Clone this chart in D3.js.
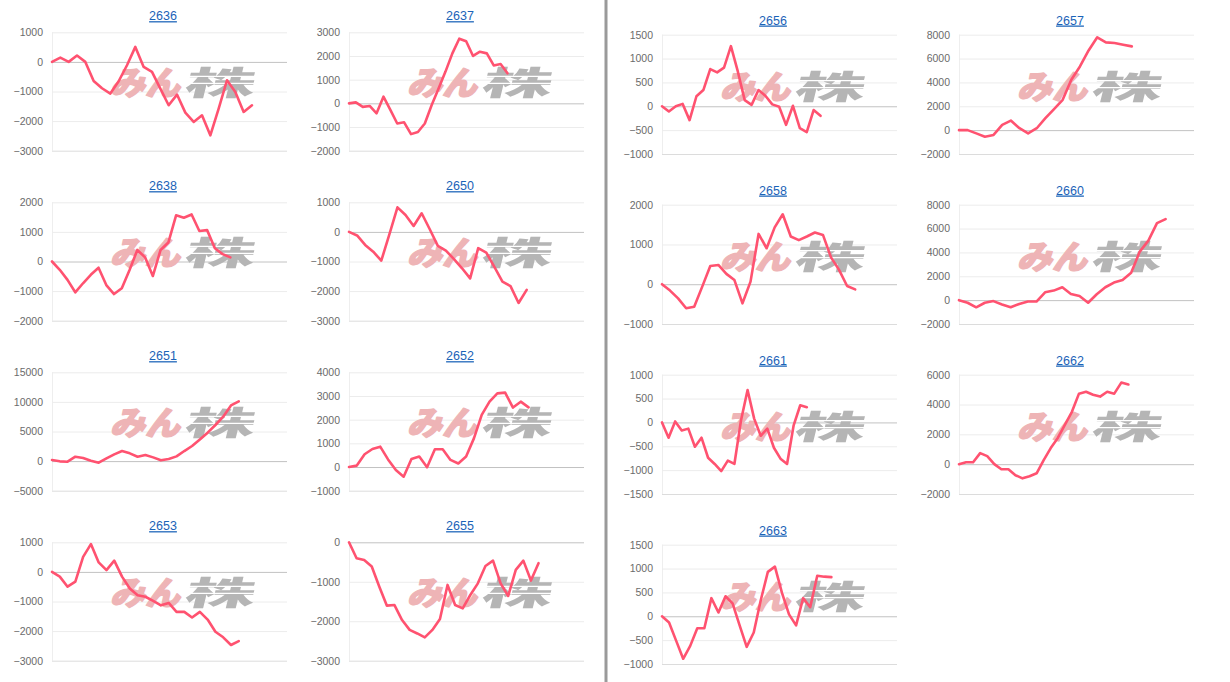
<!DOCTYPE html>
<html><head><meta charset="utf-8">
<script src="https://cdn.jsdelivr.net/npm/d3@7"></script>
<style>
html,body{margin:0;padding:0;background:#fff;}
svg{display:block;}
</style></head>
<body>
<script>
// ---- data ----
const codes = ["2636","2637","2638","2650","2651","2652","2653","2655","2656","2657","2658","2660","2661","2662","2663"];

const v2636 = [0,146,0,214,0,-642,-890,-1070,-654,-113,507,-169,-338,-901,-1465,-1104,-1713,-2028,-1803,-2479,-1577,-620,-1014,-1690,-1465];
const v2637 = [0,40,-150,-110,-420,280,-280,-850,-800,-1300,-1210,-850,-70,630,1340,2110,2730,2620,2000,2180,2110,1600,1660,1270];
const v2638 = [0,-280,-620,-1040,-735,-450,-210,-795,-1100,-905,-290,390,140,-490,390,640,1560,1480,1590,1030,1060,445,250,140];
const v2650 = [0,-120,-440,-670,-970,-80,830,570,200,630,90,-470,-630,-920,-1230,-1570,-550,-700,-1180,-1680,-1830,-2400,-1960];
const v2651 = [180,-40,-100,740,520,70,-270,460,1140,1700,1310,740,1030,630,130,350,800,1700,2550,3650,4800,6100,7500,9400,10100];
const v2652 = [0,60,540,760,860,320,-130,-410,340,440,-10,750,750,300,150,440,1210,2200,2760,3110,3140,2510,2760,2520];
const v2653 = [0,-160,-500,-330,510,940,320,60,380,-160,-560,-790,-840,-980,-1130,-1050,-1350,-1350,-1540,-1350,-1610,-2020,-2210,-2470,-2340];
const v2655 = [0,-405,-450,-615,-1125,-1605,-1590,-1970,-2220,-2310,-2410,-2220,-1945,-1080,-1590,-1675,-1335,-1040,-600,-465,-1040,-1360,-700,-465,-970,-530];
const v2656 = [0,-110,0,50,-290,210,340,780,710,810,1260,730,130,30,340,220,40,-10,-390,10,-460,-540,-80,-200];
const v2657 = [0,0,-270,-550,-400,440,800,160,-270,160,1000,1760,2540,4220,5340,6680,7780,7360,7300,7160,7020];
const v2658 = [0,-160,-355,-605,-565,-60,460,485,260,105,-480,65,1265,905,1430,1760,1200,1110,1200,1300,1240,675,360,-45,-130];
const v2660 = [0,-220,-600,-220,-80,-360,-600,-320,-120,-120,660,800,1080,520,350,-220,490,1080,1470,1690,2300,4070,4990,6450,6790];
const v2661 = [0,-320,20,-170,-130,-510,-320,-740,-870,-1020,-800,-870,40,680,80,-280,-130,-530,-760,-870,-60,360,320];
const v2662 = [0,130,130,740,540,0,-340,-340,-740,-950,-810,-610,270,1080,1760,2640,3510,4730,4860,4660,4530,4860,4730,5470,5340];
const v2663 = [0,-130,-510,-890,-620,-250,-250,380,80,420,270,-190,-640,-340,340,930,1040,490,40,-190,380,190,850,830,820];

const t2636 = [-3000,-2000,-1000,0,1000];
const t2637 = [-2000,-1000,0,1000,2000,3000];
const t2638 = [-2000,-1000,0,1000,2000];
const t2650 = [-3000,-2000,-1000,0,1000];
const t2651 = [-5000,0,5000,10000,15000];
const t2652 = [-1000,0,1000,2000,3000,4000];
const t2653 = [-3000,-2000,-1000,0,1000];
const t2655 = [-3000,-2000,-1000,0];
const t2656 = [-1000,-500,0,500,1000,1500];
const t2657 = [-2000,0,2000,4000,6000,8000];
const t2658 = [-1000,0,1000,2000];
const t2660 = [-2000,0,2000,4000,6000,8000];
const t2661 = [-1500,-1000,-500,0,500,1000];
const t2662 = [-2000,0,2000,4000,6000];
const t2663 = [-1000,-500,0,500,1000,1500];

// x-axis length (in day slots) of each chart
const xSlots = [28.2,34.1,30.3,29.1,30.2,30.1,30.2,31.0,34.1,27.2,29.2,27.3,35.7,33.3,33.3];

const seriesList = [v2636,v2637,v2638,v2650,v2651,v2652,v2653,v2655,v2656,v2657,v2658,v2660,v2661,v2662,v2663];
const tickList = [t2636,t2637,t2638,t2650,t2651,t2652,t2653,t2655,t2656,t2657,t2658,t2660,t2661,t2662,t2663];

// ---- layout ----
const W = 1230, H = 682;
const svg = d3.select("body").append("svg").attr("width", W).attr("height", H);

const titleX = [163, 460, 773, 1070];
const leftTitleY = [15.7, 185.7, 355.7, 525.7];
const rightTitleY = [20, 190, 360, 530];

svg.append("rect").attr("x", 604.5).attr("y", 0).attr("width", 3).attr("height", H).attr("fill", "#9a9a9a");

codes.forEach((code, i) => {
  const side = i < 8 ? 0 : 1;
  const k = side === 0 ? i : i - 8;
  const col = k % 2, row = Math.floor(k / 2);
  const tx = titleX[side * 2 + col];
  const ty = side === 0 ? leftTitleY[row] : rightTitleY[row];
  const top = side === 0 ? ty + 16.6 : ty + 14.7;
  const bottom = side === 0 ? ty + 135 : ty + 134;
  const left = tx - 111, right = tx + 124;
  const vals = seriesList[i];
  const ticks = tickList[i];

  const g = svg.append("g");

  const y = d3.scaleLinear().domain([ticks[0], ticks[ticks.length - 1]]).range([bottom, top]);
  const x = d3.scaleLinear().domain([0, xSlots[i]]).range([left, right]);

  // title
  g.append("text").attr("x", tx).attr("y", ty + 4.5).attr("text-anchor", "middle")
    .attr("font-family", "Liberation Sans, Arial, sans-serif").attr("font-size", 12.5)
    .attr("fill", "#1a63b8").attr("text-decoration", "underline").text(code);

  // axis + gridlines
  const ax = g.append("g").attr("transform", `translate(${left},0)`)
    .call(d3.axisLeft(y).tickValues(ticks).tickSize(-(right - left)).tickPadding(9).tickFormat(d3.format("d")));
  ax.select(".domain").attr("stroke", "#eeeeee").attr("d", `M0.5,${top}V${bottom}`);
  ax.selectAll(".tick line").attr("stroke", d => d === 0 ? "#c2c2c2" : (d === ticks[0] ? "#dcdcdc" : "#ececec")).attr("stroke-width", 1);
  ax.selectAll(".tick text").attr("fill", "#6b6b6b").attr("font-size", 10.5)
    .attr("font-family", "Liberation Sans, Arial, sans-serif");

  // watermark
  const wx = tx - 56, wy = ty + 54;
  const wm = g.append("g").attr("transform", `translate(${wx},${wy + 25}) skewX(-14)`);
  wm.append("text").attr("x", 3).attr("y", 0).attr("font-family", "Noto Sans CJK JP")
    .attr("font-weight", 900).attr("font-size", 33).attr("fill", "#eeb4b6")
    .attr("stroke", "#eeb4b6").attr("stroke-width", 1.4).attr("stroke-linejoin", "round")
    .attr("textLength", 70).attr("lengthAdjust", "spacingAndGlyphs").text("みん");
  wm.append("text").attr("x", 76).attr("y", 0).attr("font-family", "Noto Sans CJK JP")
    .attr("font-weight", 900).attr("font-size", 33).attr("fill", "#b5b5b5")
    .attr("textLength", 70).attr("lengthAdjust", "spacingAndGlyphs").text("株");
  [-19, -12].forEach(dy => {
    wm.append("rect").attr("x", 74).attr("y", dy).attr("width", 76).attr("height", 1.3).attr("fill", "#fff");
  });

  // line
  const line = d3.line().x((d, j) => x(j)).y(d => y(d));
  g.append("path").datum(vals).attr("d", line).attr("fill", "none")
    .attr("stroke", "#ff5270").attr("stroke-width", 2.6).attr("stroke-linejoin", "round").attr("stroke-linecap", "round");
});
</script>
</body></html>
